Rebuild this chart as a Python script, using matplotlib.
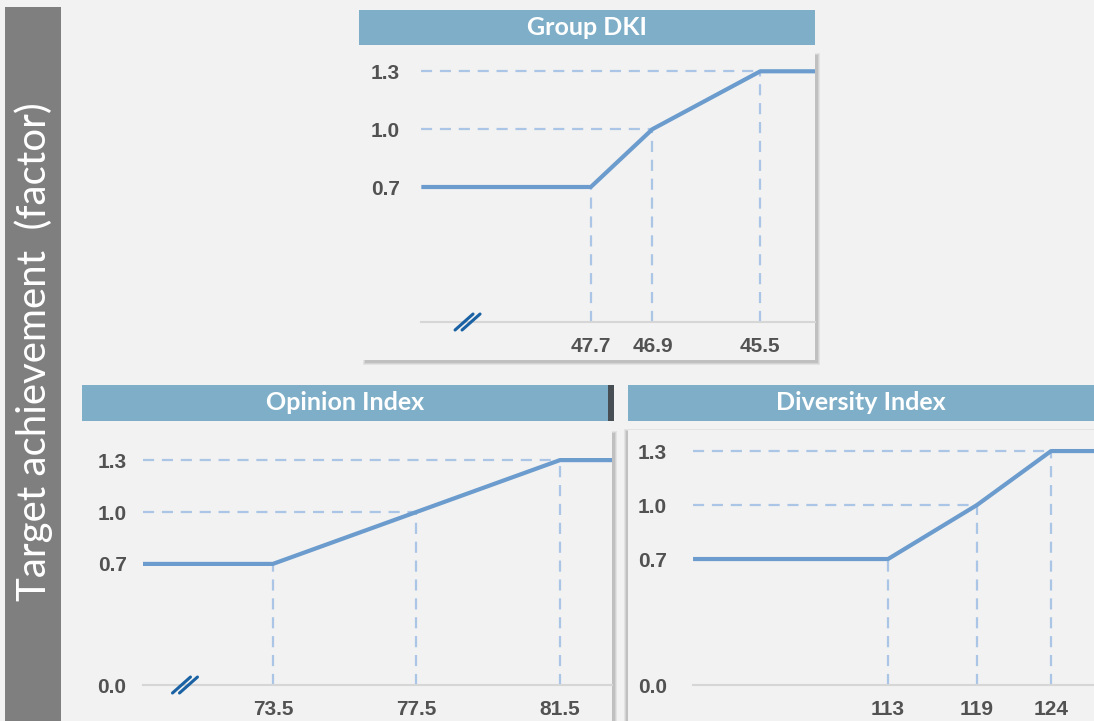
import matplotlib
matplotlib.use("Agg")
import matplotlib.pyplot as plt
from matplotlib.patches import Rectangle
from matplotlib.transforms import offset_copy

# breakpoints of the three target curves (x = KPI value, y = factor)
dki_x = [47.7, 46.9, 45.5]
dki_y = [0.7, 1.0, 1.3]
dki_range = [49.9, 44.79]          # flat ends of the curve

opinion_x = [73.5, 77.5, 81.5]
opinion_y = [0.7, 1.0, 1.3]
opinion_range = [69.88, 82.95]

diversity_x = [113, 119, 124]
diversity_y = [0.7, 1.0, 1.3]
diversity_range = [99.84, 126.9]

y_ticks = [0.7, 1.0, 1.3]
y_ticks_zero = [0.0, 0.7, 1.0, 1.3]

W, H = 1094, 721
BG = "#f2f2f2"
BAR = "#7fafc8"
LINE = "#6b9ccd"
GUIDE = "#aac5e6"
TICK = "#525252"
BREAK = "#1a62a3"

fig = plt.figure(figsize=(W / 100, H / 100), dpi=100, facecolor=BG)


def box(x0, y0, x1, y1):
    # pixel box (top-left origin) -> figure fraction rect
    return [x0 / W, 1 - y1 / H, (x1 - x0) / W, (y1 - y0) / H]


def rect(x0, y0, x1, y1, color, z=2, alpha=1.0):
    l, b, w, h = box(x0, y0, x1, y1)
    fig.add_artist(Rectangle((l, b), w, h, transform=fig.transFigure,
                             facecolor=color, edgecolor="none", zorder=z, alpha=alpha))


def shadow(x0, y0, x1, y1, dx, dy):
    # soft drop shadow: a few stacked translucent boxes
    for k, a in enumerate([0.10, 0.12, 0.16]):
        rect(x0 + dx - 2 + k, y0 + dy - 2 + k, x1 + dx + 2 - k, y1 + dy + 2 - k,
             "#606060", z=-1, alpha=a)


def title_bar(x0, y0, x1, y1, text):
    rect(x0, y0, x1, y1, BAR)
    l, b, w, h = box(x0, y0, x1, y1)
    fig.text(l + w / 2, b + h / 2, text, color="white", fontsize=18, fontweight="bold",
             family="Lato", ha="center", va="center", zorder=3)


def draw_panel(ax, xs, ys, xrange_, xlim, ylim, yticks, break_x=None):
    ax.set_facecolor(BG)
    ax.set_xlim(*xlim)
    ax.set_ylim(*ylim)
    line_x = [xrange_[0]] + xs + [xrange_[1]]
    line_y = [ys[0]] + ys + [ys[-1]]
    # dashed guides
    for x, y in zip(xs, ys):
        ax.plot([x, x], [0, y], color=GUIDE, lw=1.6, dashes=(5, 3.5), zorder=2)
        if y != ys[0]:
            ax.plot([xrange_[0], x], [y, y], color=GUIDE, lw=1.6, dashes=(5, 3.5), zorder=2)
    ax.plot(line_x, line_y, color=LINE, lw=3, solid_capstyle="butt", zorder=3)

    for s in ["top", "right", "left"]:
        ax.spines[s].set_visible(False)
    ax.spines["bottom"].set_position(("data", 0))
    ax.spines["bottom"].set_color("#d6d6d6")
    ax.spines["bottom"].set_linewidth(1.5)
    ax.spines["bottom"].set_bounds(min(xrange_), max(xrange_))
    ax.spines["left"].set_position(("axes", 0.084))

    ax.set_xticks(xs)
    ax.set_xticklabels([f"{v:g}" for v in xs])
    ax.set_yticks(yticks)
    ax.set_yticklabels([f"{v:.1f}" for v in yticks])
    ax.tick_params(length=0, labelcolor=TICK, labelsize=15)
    ax.tick_params(axis="x", pad=11)
    ax.tick_params(axis="y", pad=0)
    for lab in ax.get_xticklabels() + ax.get_yticklabels():
        lab.set_fontweight("bold")
        lab.set_family("Liberation Sans")

    if break_x is not None:
        for dx in (-3.5, 3.5):
            ax.annotate("", xy=(break_x, 0),
                        xycoords=offset_copy(ax.transData, fig=fig, x=dx + 9, y=8, units="dots"),
                        xytext=(-18, -16), textcoords="offset pixels",
                        arrowprops=dict(arrowstyle="-", color=BREAK, lw=2.2,
                                        shrinkA=0, shrinkB=0), zorder=4)


# left label bar
rect(5, 7, 61, 721, "#7f7f7f")
fig.text(34 / W, 1 - 352 / H, "Target achievement  (factor)", rotation=90, color="white",
         fontsize=29, family="Lato", ha="center", va="center", zorder=3)

# Group DKI
title_bar(359, 10, 815, 45, "Group DKI")
shadow(362, 52, 815, 360, 3, 3)
ax1 = fig.add_axes(box(362, 52, 815, 360))
draw_panel(ax1, dki_x, dki_y, dki_range, (50.67, 44.79), (-0.197, 1.40), y_ticks, break_x=49.3)

# Opinion Index
title_bar(82, 385, 608, 421, "Opinion Index")
rect(608, 385, 614, 421, "#474f55")
shadow(82, 430, 612, 740, 3, 3)
ax2 = fig.add_axes(box(82, 430, 612, 721))
draw_panel(ax2, opinion_x, opinion_y, opinion_range, (68.18, 82.95), (-0.208, 1.474),
           y_ticks_zero, break_x=71.05)

# Diversity Index
title_bar(628, 385, 1094, 421, "Diversity Index")
shadow(628, 430, 1100, 740, -2, 1)
ax3 = fig.add_axes(box(628, 430, 1094, 721))
draw_panel(ax3, diversity_x, diversity_y, diversity_range, (95.45, 126.9), (-0.2, 1.417),
           y_ticks_zero)

fig.savefig("out.png", dpi=100, facecolor=BG)
